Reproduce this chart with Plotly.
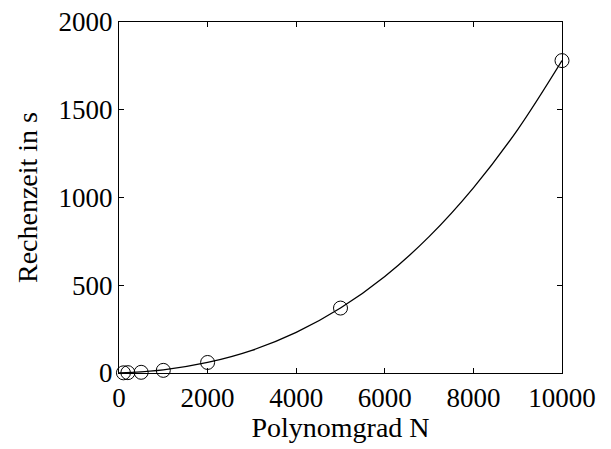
import plotly.graph_objects as go

# measured data points
degree_n = [100, 200, 500, 1000, 2000, 5000, 10000]
runtime_s = [1, 2, 4, 15, 60, 370, 1780]

# fitted curve values
curve_x = [0, 1000, 2000, 3000, 4000, 5000, 6000, 7000, 8000, 9000, 10000]
curve_y = [0, 18, 60, 129, 231, 370, 550, 777, 1055, 1387, 1780]

x_ticks = [0, 2000, 4000, 6000, 8000, 10000]
y_ticks = [0, 500, 1000, 1500, 2000]

font = "Liberation Serif, Times New Roman, serif"

fig = go.Figure()
fig.add_trace(go.Scatter(x=curve_x, y=curve_y, mode="lines",
                         line=dict(color="black", width=1.3, shape="spline"),
                         showlegend=False, hoverinfo="skip"))
fig.add_trace(go.Scatter(x=degree_n, y=runtime_s, mode="markers",
                         marker=dict(symbol="circle-open", size=14,
                                     color="black", line=dict(width=1)),
                         cliponaxis=False, showlegend=False))

axis_common = dict(showgrid=False, zeroline=False, showline=True,
                   linecolor="black", linewidth=1.2, mirror="ticks",
                   ticks="inside", ticklen=5, tickcolor="black", tickwidth=1,
                   automargin=False,
                   tickfont=dict(family=font, size=27, color="black"))

fig.update_xaxes(range=[0, 10000], tickvals=x_ticks,
                 ticktext=[str(v) for v in x_ticks],
                 title=dict(text="Polynomgrad N", standoff=4,
                            font=dict(family=font, size=28, color="black")),
                 **axis_common)
fig.update_yaxes(range=[0, 2000], tickvals=y_ticks,
                 ticktext=[str(v) for v in y_ticks],
                 title=dict(text="Rechenzeit in s", standoff=12,
                            font=dict(family=font, size=28, color="black")),
                 **axis_common)

fig.update_layout(width=611, height=449,
                  margin=dict(l=119, r=49, t=22, b=76),
                  plot_bgcolor="white", paper_bgcolor="white")

fig.write_html("out.html")
